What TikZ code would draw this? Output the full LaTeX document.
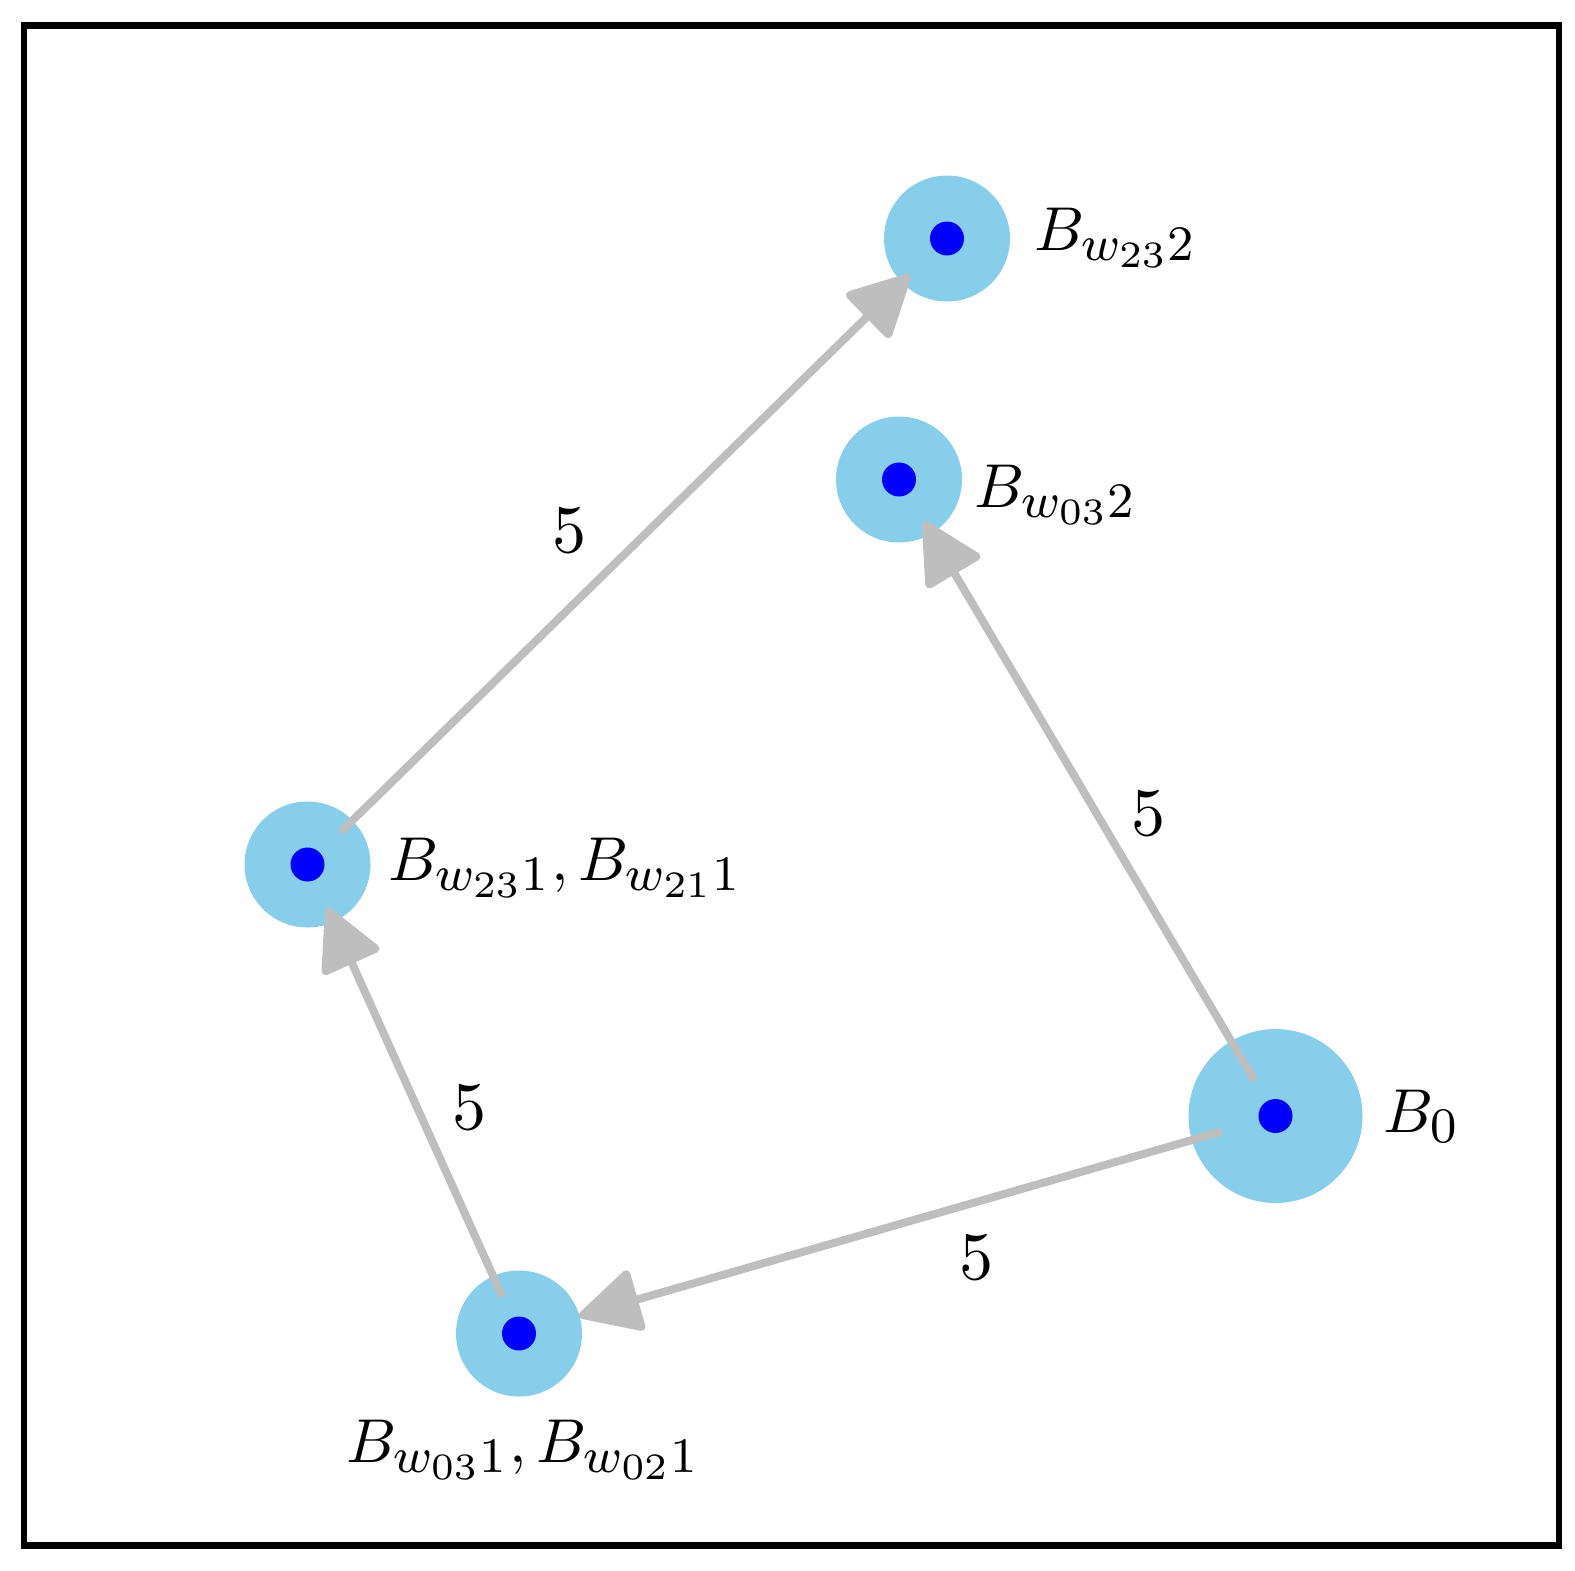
\documentclass[tikz,border=0pt]{standalone}
\usetikzlibrary{arrows.meta}
\definecolor{nodefill}{HTML}{87CEEB}
\definecolor{dotblue}{HTML}{0000FF}
\definecolor{edgegray}{HTML}{BEBEBE}
\DeclareMathSizes{10}{10}{8}{6}
\begin{document}
\begin{tikzpicture}[x=1pt,y=-1pt,
  outer/.style={circle,fill=nodefill,inner sep=0pt,minimum size=126pt},
  bigouter/.style={circle,fill=nodefill,inner sep=0pt,minimum size=174pt},
  dotnode/.style={circle,fill=dotblue,inner sep=0pt,minimum size=34pt},
  lab/.style={anchor=base west,inner sep=0pt,scale=6.2},
  elab/.style={inner sep=0pt,scale=6.8},
  conn/.style={draw=edgegray,line width=8pt,-{Triangle[length=66pt,width=66pt,round]}}
]
\useasboundingbox (0,0) rectangle (1575,1571);
\draw[line width=6.5pt] (24,25.5) rectangle (1559,1545.5);

% outer circles
\node[bigouter] (b0) at (1275.5,1116) {};
\node[outer] (w03a) at (519,1333.5) {};
\node[outer] (w23a) at (307.5,864.5) {};
\node[outer] (w23b) at (947,238.5) {};
\node[outer] (w03b) at (899,479.5) {};

% connectors
\draw[conn,shorten <=56pt,shorten >=62.5pt] (b0.center) -- (w03a.center);
\draw[conn,shorten <=41pt,shorten >=48.8pt] (b0.center) -- (w03b.center);
\draw[conn,shorten <=40pt,shorten >=47.7pt] (w03a.center) -- (w23a.center);
\draw[conn,shorten <=46pt,shorten >=52pt] (w23a.center) -- (w23b.center);

% inner dots
\node[dotnode] (d0) at (b0.center) {};
\node[dotnode] (d1) at (w03a.center) {};
\node[dotnode] (d2) at (w23a.center) {};
\node[dotnode] (d3) at (w23b.center) {};
\node[dotnode] (d4) at (w03b.center) {};

% node labels
\node[lab] (l0) at (1382,1132) {$B_0$};
\node[lab] (l1) at (345,1462) {$B_{w_{03}1},B_{w_{02}1}$};
\node[lab] (l2) at (387,880) {$B_{w_{23}1},B_{w_{21}1}$};
\node[lab] (l3) at (1033,250) {$B_{w_{23}2}$};
\node[lab] (l4) at (973,507) {$B_{w_{03}2}$};

% edge labels
\node[elab] (e1) at (976,1258) {5};
\node[elab] (e2) at (1148,814) {5};
\node[elab] (e3) at (469,1108) {5};
\node[elab] (e4) at (569,531) {5};
\end{tikzpicture}
\end{document}
